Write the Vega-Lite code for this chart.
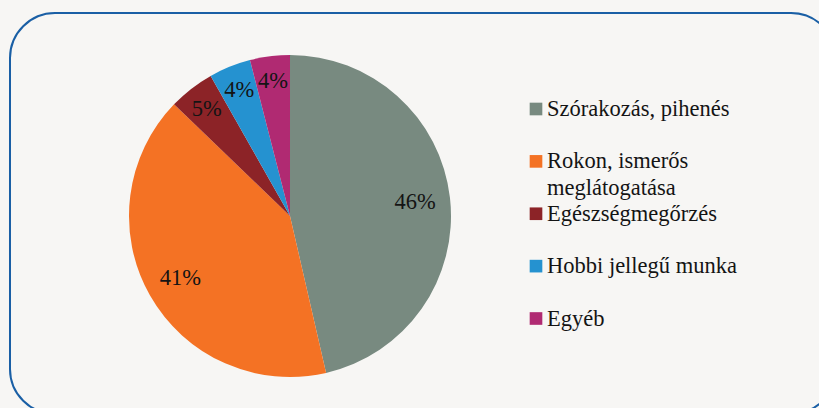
{
  "$schema": "https://vega.github.io/schema/vega-lite/v6.json",
  "width": 826,
  "height": 401,
  "autosize": {"type": "none"},
  "padding": {"left": 10, "top": 13, "right": 0, "bottom": 0},
  "background": "#f7f6f4",
  "config": {
    "view": {"stroke": "#1a5fa5", "strokeWidth": 2, "cornerRadius": 45, "fill": "#f7f6f4"},
    "font": "Liberation Serif"
  },
  "data": {
    "values": [
      {"rank": 1, "category": "Szórakozás, pihenés", "value": 46.4, "label": "46%"},
      {"rank": 2, "category": "Rokon, ismerős meglátogatása", "value": 40.8, "label": "41%"},
      {"rank": 3, "category": "Egészségmegőrzés", "value": 4.6, "label": "5%"},
      {"rank": 4, "category": "Hobbi jellegű munka", "value": 4.2, "label": "4%"},
      {"rank": 5, "category": "Egyéb", "value": 4.0, "label": "4%"}
    ]
  },
  "layer": [
    {
      "mark": {"type": "arc", "radius": 161, "stroke": null},
      "encoding": {
        "x": {"value": 280},
        "y": {"value": 203},
        "theta": {"field": "value", "type": "quantitative", "stack": true},
        "order": {"field": "rank", "type": "quantitative"},
        "color": {
          "field": "category", "type": "nominal",
          "scale": {
            "domain": ["Szórakozás, pihenés", "Rokon, ismerős meglátogatása", "Egészségmegőrzés", "Hobbi jellegű munka", "Egyéb"],
            "range": ["#788a80", "#f47224", "#8c2327", "#2592d0", "#b02a72"]
          },
          "legend": null
        }
      }
    },
    {
      "mark": {"type": "text", "font": "Liberation Serif", "fontSize": 22.5, "color": "#141414", "align": "center", "baseline": "middle", "radius": 126},
      "encoding": {
        "x": {"value": 280},
        "y": {"value": 203},
        "theta": {"field": "value", "type": "quantitative", "stack": true},
        "order": {"field": "rank", "type": "quantitative"},
        "text": {"condition": {"test": "datum.value >= 10", "field": "label"}, "value": ""}
      }
    },
    {
      "mark": {"type": "text", "font": "Liberation Serif", "fontSize": 22.5, "color": "#141414", "align": "center", "baseline": "middle", "radius": 136},
      "encoding": {
        "x": {"value": 280},
        "y": {"value": 203},
        "theta": {"field": "value", "type": "quantitative", "stack": true},
        "order": {"field": "rank", "type": "quantitative"},
        "text": {"condition": {"test": "datum.value < 10", "field": "label"}, "value": ""}
      }
    },
    {
      "mark": {"type": "square", "size": 160, "opacity": 1, "filled": true},
      "encoding": {
        "x": {"value": 526},
        "y": {"field": "category", "type": "nominal", "sort": {"field": "rank"}, "scale": {"type": "point", "padding": 0, "range": [96, 305.5]}, "axis": null},
        "color": {"field": "category", "type": "nominal", "legend": null}
      }
    },
    {
      "mark": {"type": "text", "font": "Liberation Serif", "fontSize": 22.5, "color": "#141414", "align": "left", "baseline": "alphabetic", "lineHeight": 27, "dy": 7},
      "encoding": {
        "x": {"value": 537},
        "y": {"field": "category", "type": "nominal", "sort": {"field": "rank"}, "scale": {"type": "point", "padding": 0, "range": [96, 305.5]}, "axis": null},
        "text": {"field": "legendText"}
      },
      "transform": [
        {"calculate": "datum.rank == 2 ? ['Rokon, ismerős', 'meglátogatása'] : datum.category", "as": "legendText"}
      ]
    }
  ]
}
